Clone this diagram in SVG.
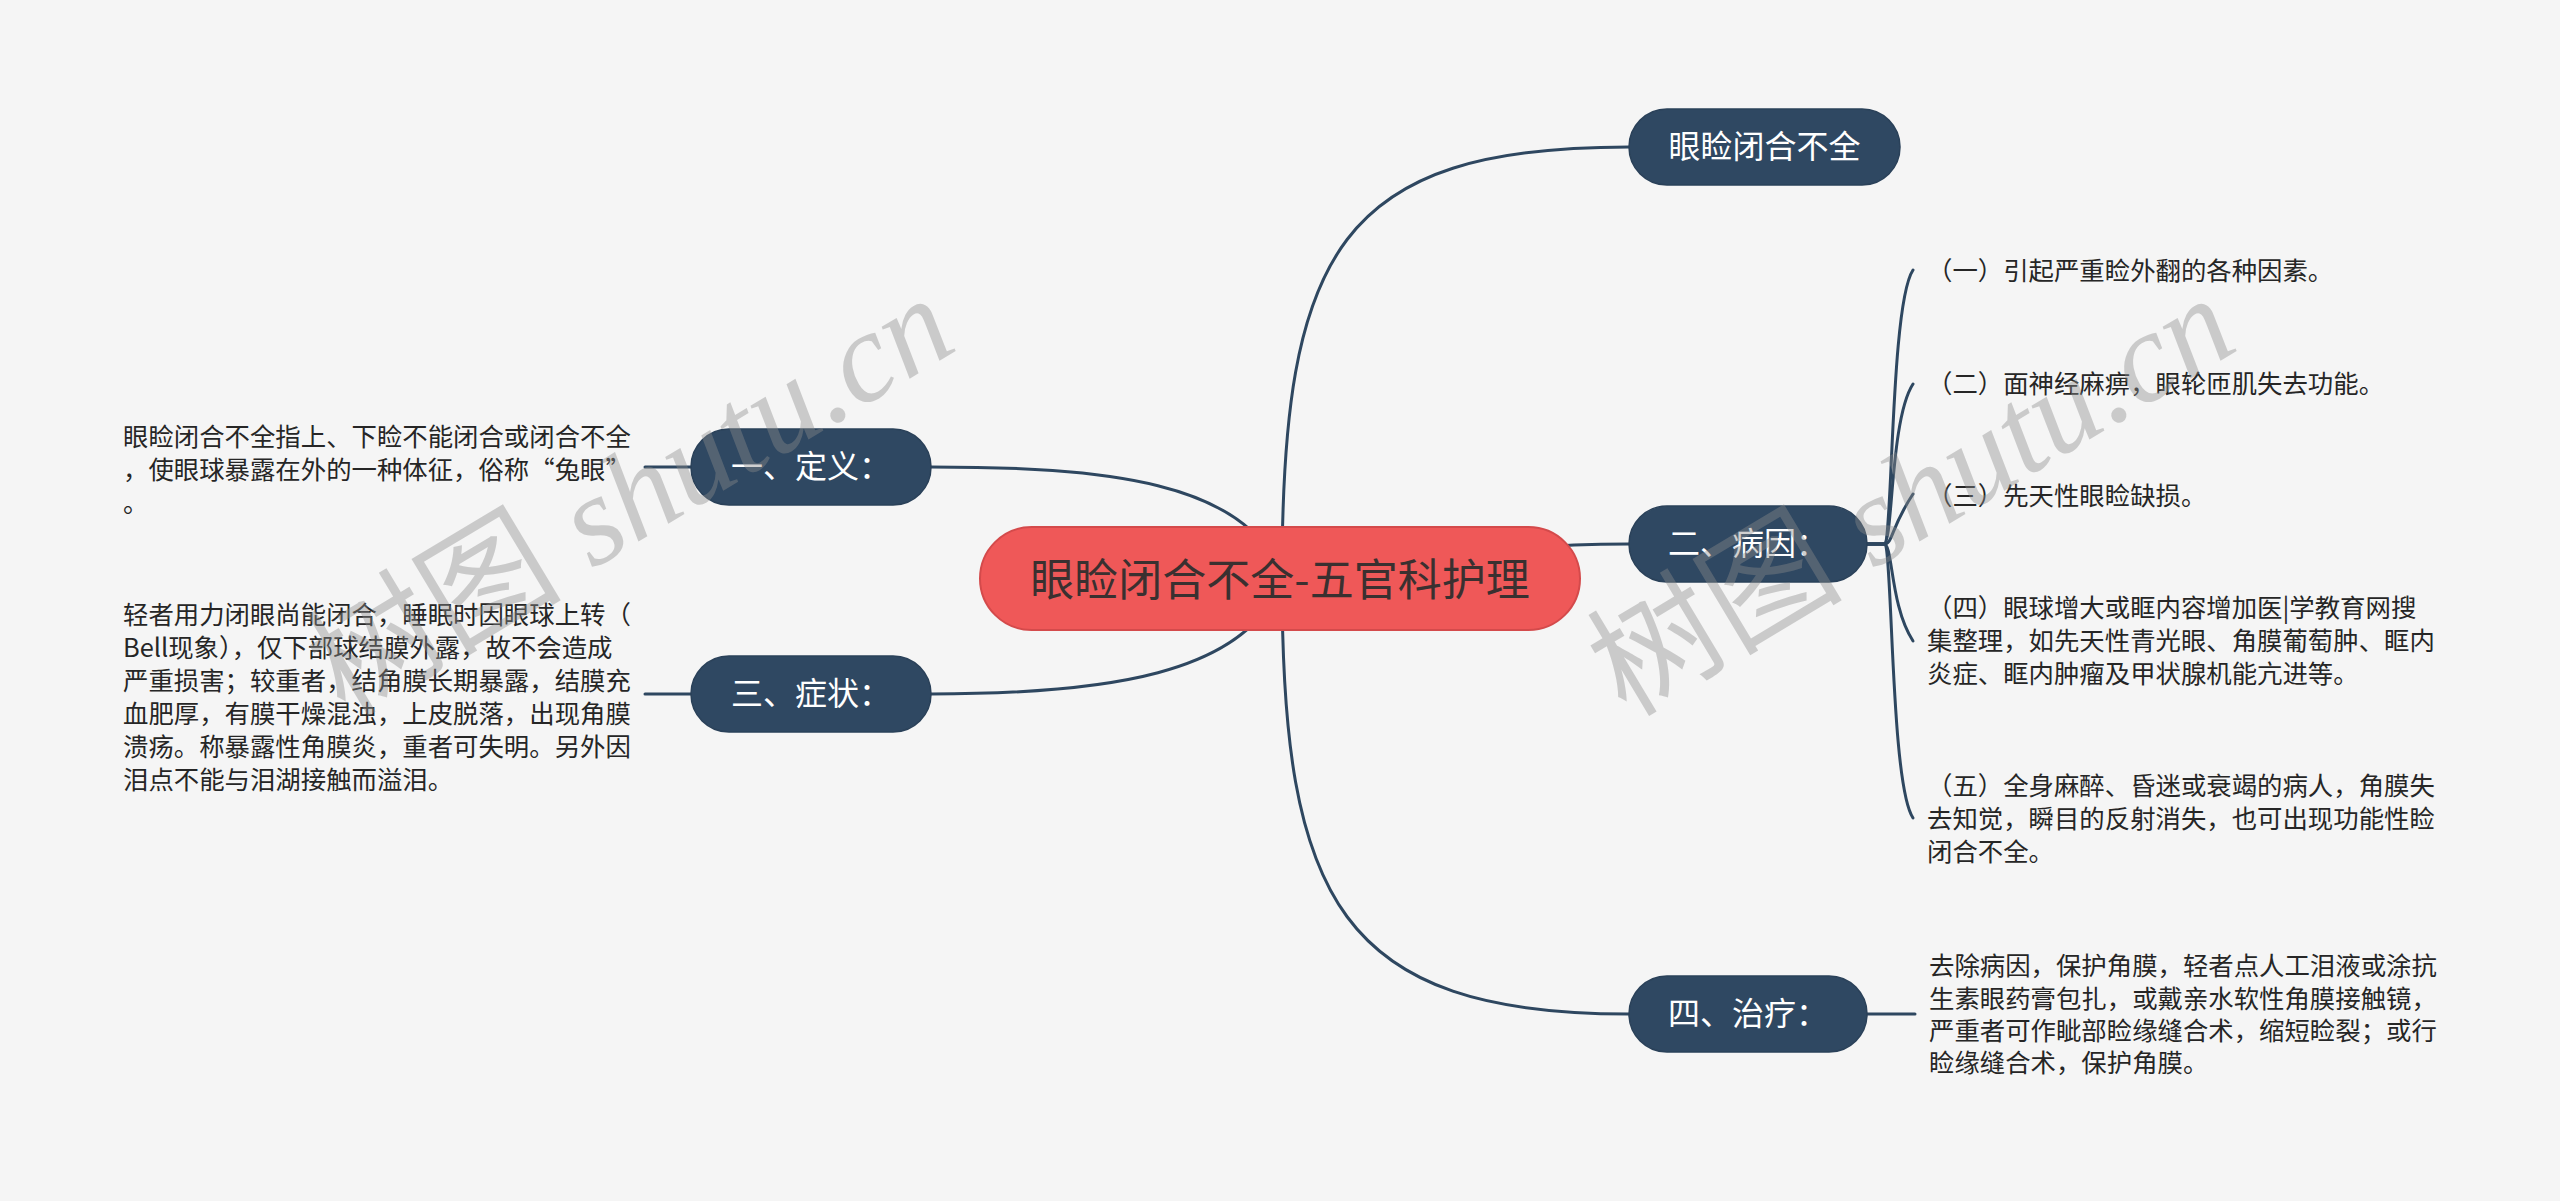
<svg xmlns="http://www.w3.org/2000/svg" width="2560" height="1201" viewBox="0 0 2560 1201">
<style>
.bg{fill:#f5f5f5}
.conn{fill:none;stroke:#2e4760;stroke-width:3;stroke-linecap:round}
.l1 rect{fill:#2f4862;stroke:#2a4159;stroke-width:1.5}
.l1 text{fill:#ffffff;font-family:"Noto Sans CJK SC","Noto Sans",sans-serif;font-size:32px;text-anchor:middle}
.leaf{fill:#262626;font-family:"Noto Sans CJK SC","Noto Sans",sans-serif;font-size:25.4px}
.wm{fill:#8c8c8c;opacity:0.4;font-size:128px}
</style>
<rect class="bg" x="0" y="0" width="2560" height="1201"/>

<g id="connectors">
<path class="conn" d="M 1282 578 C 1282 250 1340 147 1629 147"/>
<path class="conn" d="M 1282 578 C 1420 578 1440 544 1629 544"/>
<path class="conn" d="M 1282 578 C 1282 900 1340 1014 1629 1014"/>
<path class="conn" d="M 1282 578 C 1250 480 1100 467 931 467"/>
<path class="conn" d="M 1282 578 C 1250 676 1100 694 931 694"/>
<path class="conn" d="M 691 467 H 645"/>
<path class="conn" d="M 691 694 H 645"/>
<path class="conn" d="M 1867 1014 H 1915"/>
<path class="conn" d="M 1867 544 L 1884 544 C 1893 544 1890 305 1913 270"/>
<path class="conn" d="M 1867 544 L 1884 544 C 1893 544 1890 419 1913 384"/>
<path class="conn" d="M 1867 544 L 1884 544 C 1893 544 1890 529 1913 494"/>
<path class="conn" d="M 1867 544 L 1884 544 C 1893 544 1890 606 1913 641"/>
<path class="conn" d="M 1867 544 L 1884 544 C 1893 544 1890 783 1913 818"/>
</g>

<g id="root">
<rect x="980" y="527" width="600" height="103" rx="51.5" fill="#ef5858" stroke="#d44a4b" stroke-width="2"/>
<text x="1280" y="596" font-family="'Noto Sans CJK SC','Noto Sans',sans-serif" font-size="44" fill="#3a3030" text-anchor="middle">眼睑闭合不全-五官科护理</text>
</g>

<g id="node-yanjian" class="l1">
<rect x="1629" y="109" width="271" height="76" rx="38"/>
<text x="1764.5" y="158">眼睑闭合不全</text>
</g>
<g id="node-bingyin" class="l1">
<rect x="1629" y="506" width="238" height="76" rx="38"/>
<text x="1748" y="555">二、病因：</text>
</g>
<g id="node-zhiliao" class="l1">
<rect x="1629" y="976" width="238" height="76" rx="38"/>
<text x="1748" y="1025">四、治疗：</text>
</g>
<g id="node-dingyi" class="l1">
<rect x="691" y="429" width="240" height="76" rx="38"/>
<text x="811" y="478">一、定义：</text>
</g>
<g id="node-zhengzhuang" class="l1">
<rect x="691" y="656" width="240" height="76" rx="38"/>
<text x="811" y="705">三、症状：</text>
</g>

<g id="leaf-dingyi">
<text class="leaf" x="123" y="446">眼睑闭合不全指上、下睑不能闭合或闭合不全</text>
<text class="leaf" x="123" y="479">，使眼球暴露在外的一种体征，俗称“兔眼”</text>
<text class="leaf" x="123" y="512">。</text>
</g>
<g id="leaf-zhengzhuang">
<text class="leaf" x="123" y="624">轻者用力闭眼尚能闭合，睡眠时因眼球上转（</text>
<text class="leaf" x="123" y="657">Bell现象），仅下部球结膜外露，故不会造成</text>
<text class="leaf" x="123" y="690">严重损害；较重者，结角膜长期暴露，结膜充</text>
<text class="leaf" x="123" y="723">血肥厚，有膜干燥混浊，上皮脱落，出现角膜</text>
<text class="leaf" x="123" y="756">溃疡。称暴露性角膜炎，重者可失明。另外因</text>
<text class="leaf" x="123" y="789">泪点不能与泪湖接触而溢泪。</text>
</g>
<g id="leaf-by1"><text class="leaf" x="1927" y="280">（一）引起严重睑外翻的各种因素。</text></g>
<g id="leaf-by2"><text class="leaf" x="1927" y="393">（二）面神经麻痹，眼轮匝肌失去功能。</text></g>
<g id="leaf-by3"><text class="leaf" x="1927" y="505">（三）先天性眼睑缺损。</text></g>
<g id="leaf-by4">
<text class="leaf" x="1927" y="617">（四）眼球增大或眶内容增加医|学教育网搜</text>
<text class="leaf" x="1927" y="650">集整理，如先天性青光眼、角膜葡萄肿、眶内</text>
<text class="leaf" x="1927" y="683">炎症、眶内肿瘤及甲状腺机能亢进等。</text>
</g>
<g id="leaf-by5">
<text class="leaf" x="1927" y="795">（五）全身麻醉、昏迷或衰竭的病人，角膜失</text>
<text class="leaf" x="1927" y="828">去知觉，瞬目的反射消失，也可出现功能性睑</text>
<text class="leaf" x="1927" y="861">闭合不全。</text>
</g>
<g id="leaf-zhiliao">
<text class="leaf" x="1929" y="975">去除病因，保护角膜，轻者点人工泪液或涂抗</text>
<text class="leaf" x="1929" y="1008">生素眼药膏包扎，或戴亲水软性角膜接触镜，</text>
<text class="leaf" x="1929" y="1040">严重者可作眦部睑缘缝合术，缩短睑裂；或行</text>
<text class="leaf" x="1929" y="1072">睑缘缝合术，保护角膜。</text>
</g>

<g id="watermarks">
<text class="wm" transform="translate(345 718) rotate(-31)"><tspan font-family="'Noto Sans CJK SC',sans-serif">树图</tspan><tspan font-family="'Liberation Serif',serif" font-style="italic"> shutu.cn</tspan></text>
<text class="wm" transform="translate(1626 718) rotate(-31)"><tspan font-family="'Noto Sans CJK SC',sans-serif">树图</tspan><tspan font-family="'Liberation Serif',serif" font-style="italic"> shutu.cn</tspan></text>
</g>
</svg>
